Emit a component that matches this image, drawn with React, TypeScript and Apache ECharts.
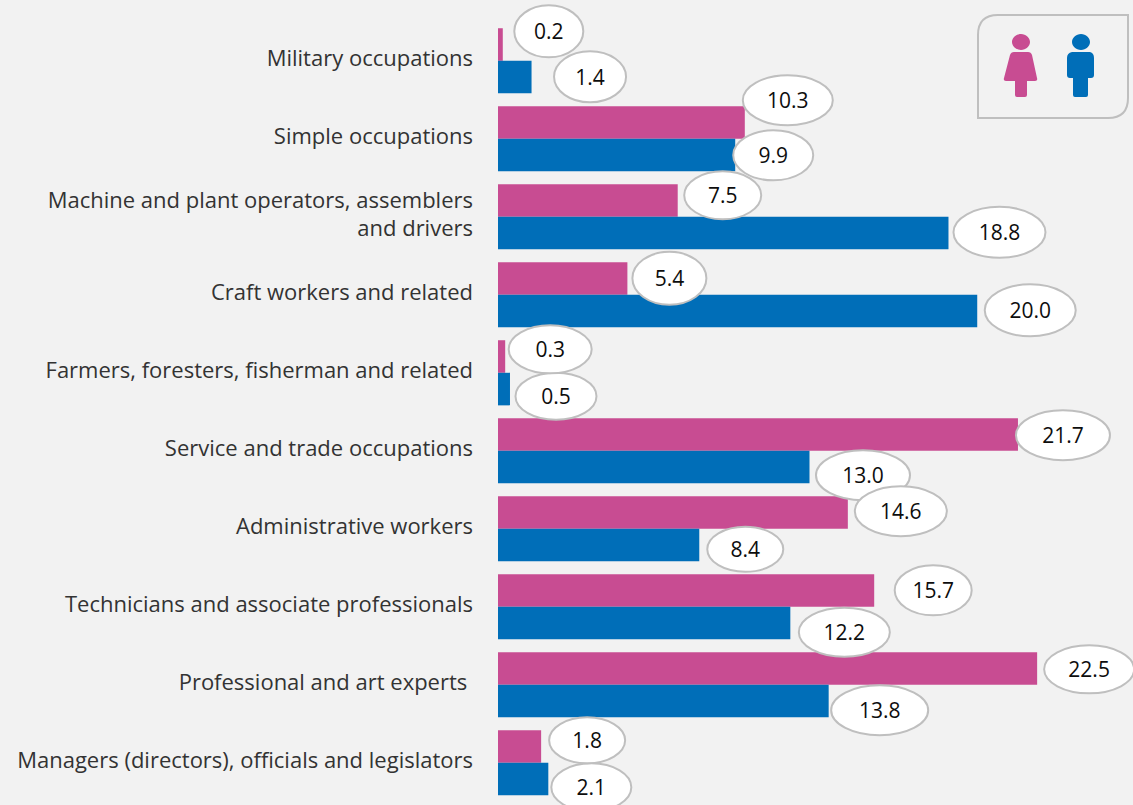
import React, { useEffect, useRef } from "react";
import * as echarts from "echarts";

const categories = [
  "Military occupations",
  "Simple occupations",
  "Machine and plant operators, assemblers\nand drivers",
  "Craft workers and related",
  "Farmers, foresters, fisherman and related",
  "Service and trade occupations",
  "Administrative workers",
  "Technicians and associate professionals",
  "Professional and art experts ",
  "Managers (directors), officials and legislators",
];
const femaleValues = [0.2, 10.3, 7.5, 5.4, 0.3, 21.7, 14.6, 15.7, 22.5, 1.8];
const maleValues = [1.4, 9.9, 18.8, 20.0, 0.5, 13.0, 8.4, 12.2, 13.8, 2.1];

// callout placement relative to the end of each bar: [dx, dy, width, height]
const femaleCallouts = [
  [46, -29.5, 69, 52], [43, -38.5, 90, 50], [45, -21.5, 77, 48], [42, -16.5, 74, 53], [45, -23.5, 83, 48],
  [45, -15.5, 94, 50], [53, -17.5, 92, 50], [59, -16.5, 77, 50], [52, -15.5, 90, 48], [46, -22.5, 76, 46],
];
const maleCallouts = [
  [58.5, 16, 72, 51], [38, 16.5, 80, 50], [51, 15.5, 92, 51], [53, 15.5, 91, 52], [46, 23.5, 81, 47],
  [53.5, 24.5, 94, 50], [46, 20.5, 76, 45], [54, 25.5, 91, 49], [51, 25.5, 97, 50], [43, 24.5, 80, 48],
];

const FEMALE = "#C84C92";
const MALE = "#006EB8";
const LABEL_FONT = "Open Sans";

echarts.graphic.registerShape(
  "legendBox",
  echarts.graphic.extendPath(
    "M998 15 L1128 15 L1128 98 Q1128 118 1108 118 L978 118 L978 35 Q978 15 998 15 Z",
    {}
  )
);
echarts.graphic.registerShape(
  "womanIcon",
  echarts.graphic.extendPath(
    "M1021 34 C1026 34 1030 38 1030 42 C1030 46 1026 50 1021 50 C1016 50 1012 46 1012 42 C1012 38 1016 34 1021 34 Z " +
      "M1014 52 L1028 52 Q1031 52 1032 55 L1037 78 Q1038 81 1035 81 L1027 81 L1027 95 Q1027 97 1025 97 L1017 97 Q1015 97 1015 95 L1015 81 L1006 81 Q1003 81 1004 78 L1010 55 Q1011 52 1014 52 Z",
    {}
  )
);
echarts.graphic.registerShape(
  "manIcon",
  echarts.graphic.extendPath(
    "M1081 34 C1086 34 1090 38 1090 42 C1090 46 1086 50 1081 50 C1076 50 1072 46 1072 42 C1072 38 1076 34 1081 34 Z " +
      "M1072 52 L1090 52 Q1094 53 1094 58 L1094 75 Q1094 78 1091 78 L1088 78 L1088 95 Q1088 97 1086 97 L1075 97 Q1073 97 1073 95 L1073 78 L1070 78 Q1067 78 1067 75 L1067 58 Q1067 53 1072 52 Z",
    {}
  )
);

function calloutSeries(name: string, values: number[], callouts: number[][]) {
  return {
    name: name + " labels",
    type: "custom",
    clip: false,
    z: 5,
    silent: true,
    encode: { x: 0, y: 1 },
    data: values.map((v, i) => [v, i]),
    renderItem: (params: any, api: any) => {
      const i = params.dataIndex;
      const [x, y] = api.coord([api.value(0), categories[i]]);
      const [dx, dy, w, h] = callouts[i];
      return {
        type: "group",
        children: [
          {
            type: "ellipse",
            shape: { cx: x + dx, cy: y + dy, rx: w / 2, ry: h / 2 },
            style: { fill: "#FFFFFF", stroke: "#BFBFBF", lineWidth: 2 },
          },
          {
            type: "text",
            style: {
              x: x + dx,
              y: y + dy,
              text: values[i].toFixed(1),
              align: "center",
              verticalAlign: "middle",
              fontFamily: LABEL_FONT,
              fontSize: 21,
              fill: "#0D0D0D",
            },
          },
        ],
      };
    },
  };
}

export default function App() {
  const ref = useRef<HTMLDivElement>(null);
  useEffect(() => {
    const chart = echarts.init(ref.current!, undefined, { renderer: "svg" });
    chart.setOption({
      animation: false,
      backgroundColor: "#F2F2F2",
      grid: [
        { left: 498, top: 21.8, width: 623, height: 780 },
        // the category names sit slightly above the middle of their bars
        { left: 498, top: 18, width: 623, height: 780 },
      ],
      xAxis: [
        { type: "value", min: 0, max: 26, show: false, gridIndex: 0 },
        { type: "value", min: 0, max: 26, show: false, gridIndex: 1 },
      ],
      yAxis: [
        {
          type: "category",
          inverse: true,
          gridIndex: 0,
          data: categories,
          axisLine: { show: false },
          axisTick: { show: false },
          axisLabel: { show: false },
        },
        {
          type: "category",
          inverse: true,
          gridIndex: 1,
          data: categories,
          axisLine: { show: false },
          axisTick: { show: false },
          axisLabel: {
            margin: 25,
            align: "right",
            fontFamily: LABEL_FONT,
            fontSize: 22,
            lineHeight: 28,
            color: "#333333",
          },
        },
      ],
      series: [
        {
          name: "Female",
          type: "bar",
          data: femaleValues,
          barGap: 0,
          barCategoryGap: "16.5%",
          itemStyle: { color: FEMALE },
        },
        {
          name: "Male",
          type: "bar",
          data: maleValues,
          itemStyle: { color: MALE },
        },
        calloutSeries("Male", maleValues, maleCallouts),
        calloutSeries("Female", femaleValues, femaleCallouts),
      ],
      graphic: [
        {
          type: "legendBox",
          x: 0,
          y: 0,
          style: { fill: "#F2F2F2", stroke: "#BFBFBF", lineWidth: 2 },
        },
        { type: "womanIcon", x: 0, y: 0, style: { fill: FEMALE } },
        { type: "manIcon", x: 0, y: 0, style: { fill: MALE } },
      ],
    });
    return () => chart.dispose();
  }, []);
  return (
    <div
      ref={ref}
      style={{ position: "absolute", left: 0, top: 0, width: 1133, height: 805 }}
    />
  );
}
